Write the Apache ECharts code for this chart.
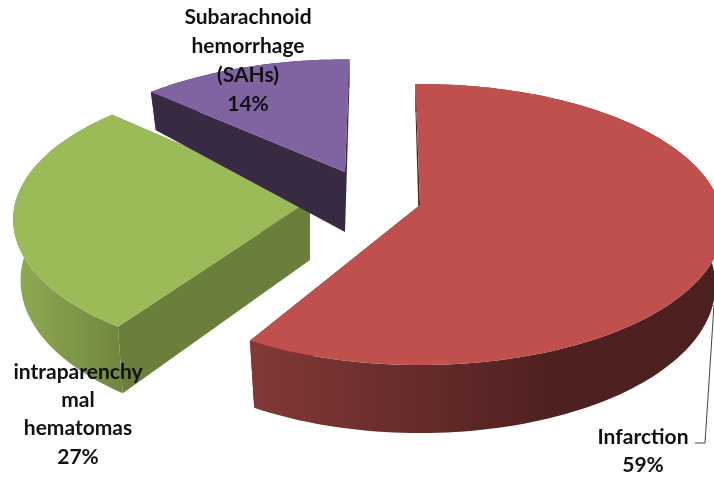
<!DOCTYPE html>
<html>
<head>
<meta charset="utf-8">
<style>html,body{margin:0;padding:0;background:#fff}#c{width:714px;height:477px}</style>
<script src="https://cdn.jsdelivr.net/npm/echarts@6/dist/echarts.min.js"></script>
</head>
<body>
<div id="c"></div>
<script>
// Data
var categories = ['Infarction', 'intraparenchy\nmal\nhematomas', 'Subarachnoid\nhemorrhage\n(SAHs)'];
var values = [59, 27, 14];

// Drawing style and layout of the tilted, exploded pie
var startAngle = -1;
var tiltK = 0.139, radiusX = 300, radiusY = 137.8, rimShrink = 0.025;
var apexes = [[420, 205], [310, 200], [345, 172]];
var scaleX = [1, 0.98, 0.97];
var scaleY = [1, 1, 0.93];
// small perspective corrections of each slice's two cut edges, in degrees
var edgeShift = [[0, -1.5], [4, 4], [4.5, 2]];
var topColors = ['#c0504d', '#9bbb59', '#8064a2'];
var edgeColors = ['#4d1f1e', '#6b7f3d', '#372a42'];
var arcGradients = [
  [[0, '#833837'], [0.35, '#662c2b'], [0.65, '#4e201f'], [1, '#4d1f1e']],
  [[0, '#90ab53'], [1, '#70863f']],
  [[0, '#372a42'], [1, '#372a42']]
];
var labelBoxes = [[643, 437, 28], [78, 372, 28.3], [248, 17, 29]];

var total = values.reduce(function (a, b) { return a + b; }, 0);

function project(i, deg) {
  var t = deg * Math.PI / 180, u = Math.sin(t), v = Math.cos(t), w = 1 + tiltK * v;
  return {
    x: apexes[i][0] + scaleX[i] * radiusX * u / w,
    y: apexes[i][1] - scaleY[i] * radiusY * v / w,
    v: v, i: i
  };
}
function depth(v) { return v < 0 ? 60 - 8 * v : 60 - 32 * v; }
function arc(i, a, b) {
  var pts = [], n = Math.max(8, Math.ceil(Math.abs(b - a) / 1.5));
  for (var k = 0; k <= n; k++) pts.push(project(i, a + (b - a) * k / n));
  return pts;
}
function xy(p) { return [p.x, p.y]; }
function low(p) { return [p.x - rimShrink * (p.x - apexes[p.i][0]), p.y + depth(p.v)]; }

function renderItem(params, api) {
  var i = params.dataIndex, before = 0;
  for (var j = 0; j < i; j++) before += values[j];
  var a = startAngle + before / total * 360 + edgeShift[i][0];
  var b = startAngle + (before + api.value(0)) / total * 360 + edgeShift[i][1];
  var pts = arc(i, a, b);
  var ax = apexes[i][0], ay = apexes[i][1];
  var apexLow = [ax, ay + depth(0)];
  var fill = edgeColors[i];
  var kids = [];
  function poly(points, style) {
    kids.push({ type: 'polygon', shape: { points: points }, style: style, silent: true });
  }
  // straight cut faces
  var first = pts[0], last = pts[pts.length - 1];
  poly([[ax, ay], xy(first), low(first), apexLow], { fill: fill });
  poly([[ax, ay], xy(last), low(last), apexLow], { fill: fill });
  // curved rim
  poly(pts.map(xy).concat(pts.map(low).reverse()), {
    fill: {
      type: 'linear', x: 0, y: 0, x2: 1, y2: 0,
      colorStops: arcGradients[i].map(function (s) { return { offset: s[0], color: s[1] }; })
    }
  });
  // top face
  poly([[ax, ay]].concat(pts.map(xy)), { fill: topColors[i] });
  return { type: 'group', children: kids };
}

function labelGraphics() {
  var out = [];
  categories.forEach(function (name, i) {
    var lines = name.split('\n').concat([Math.round(values[i] / total * 100) + '%']);
    lines.forEach(function (line, k) {
      out.push({
        type: 'text', x: labelBoxes[i][0], y: labelBoxes[i][1] + k * labelBoxes[i][2], z: 10,
        style: {
          text: line, fill: '#111', align: 'center', verticalAlign: 'middle',
          font: 'bold 21px Lato, "Noto Sans", sans-serif'
        }
      });
    });
  });
  out.push({
    type: 'polyline', z: 9,
    shape: { points: [[695, 443], [705, 443], [714, 305]] },
    style: { stroke: '#444', lineWidth: 1, fill: null }
  });
  return out;
}

var chart = echarts.init(document.getElementById('c'), null, { renderer: 'canvas' });
chart.setOption({
  animation: false,
  backgroundColor: '#ffffff',
  graphic: { elements: labelGraphics() },
  series: [{
    type: 'custom',
    coordinateSystem: 'none',
    renderItem: renderItem,
    clip: false,
    data: values.map(function (v, i) { return { value: [v], name: categories[i] }; })
  }]
});
</script>
</body>
</html>
